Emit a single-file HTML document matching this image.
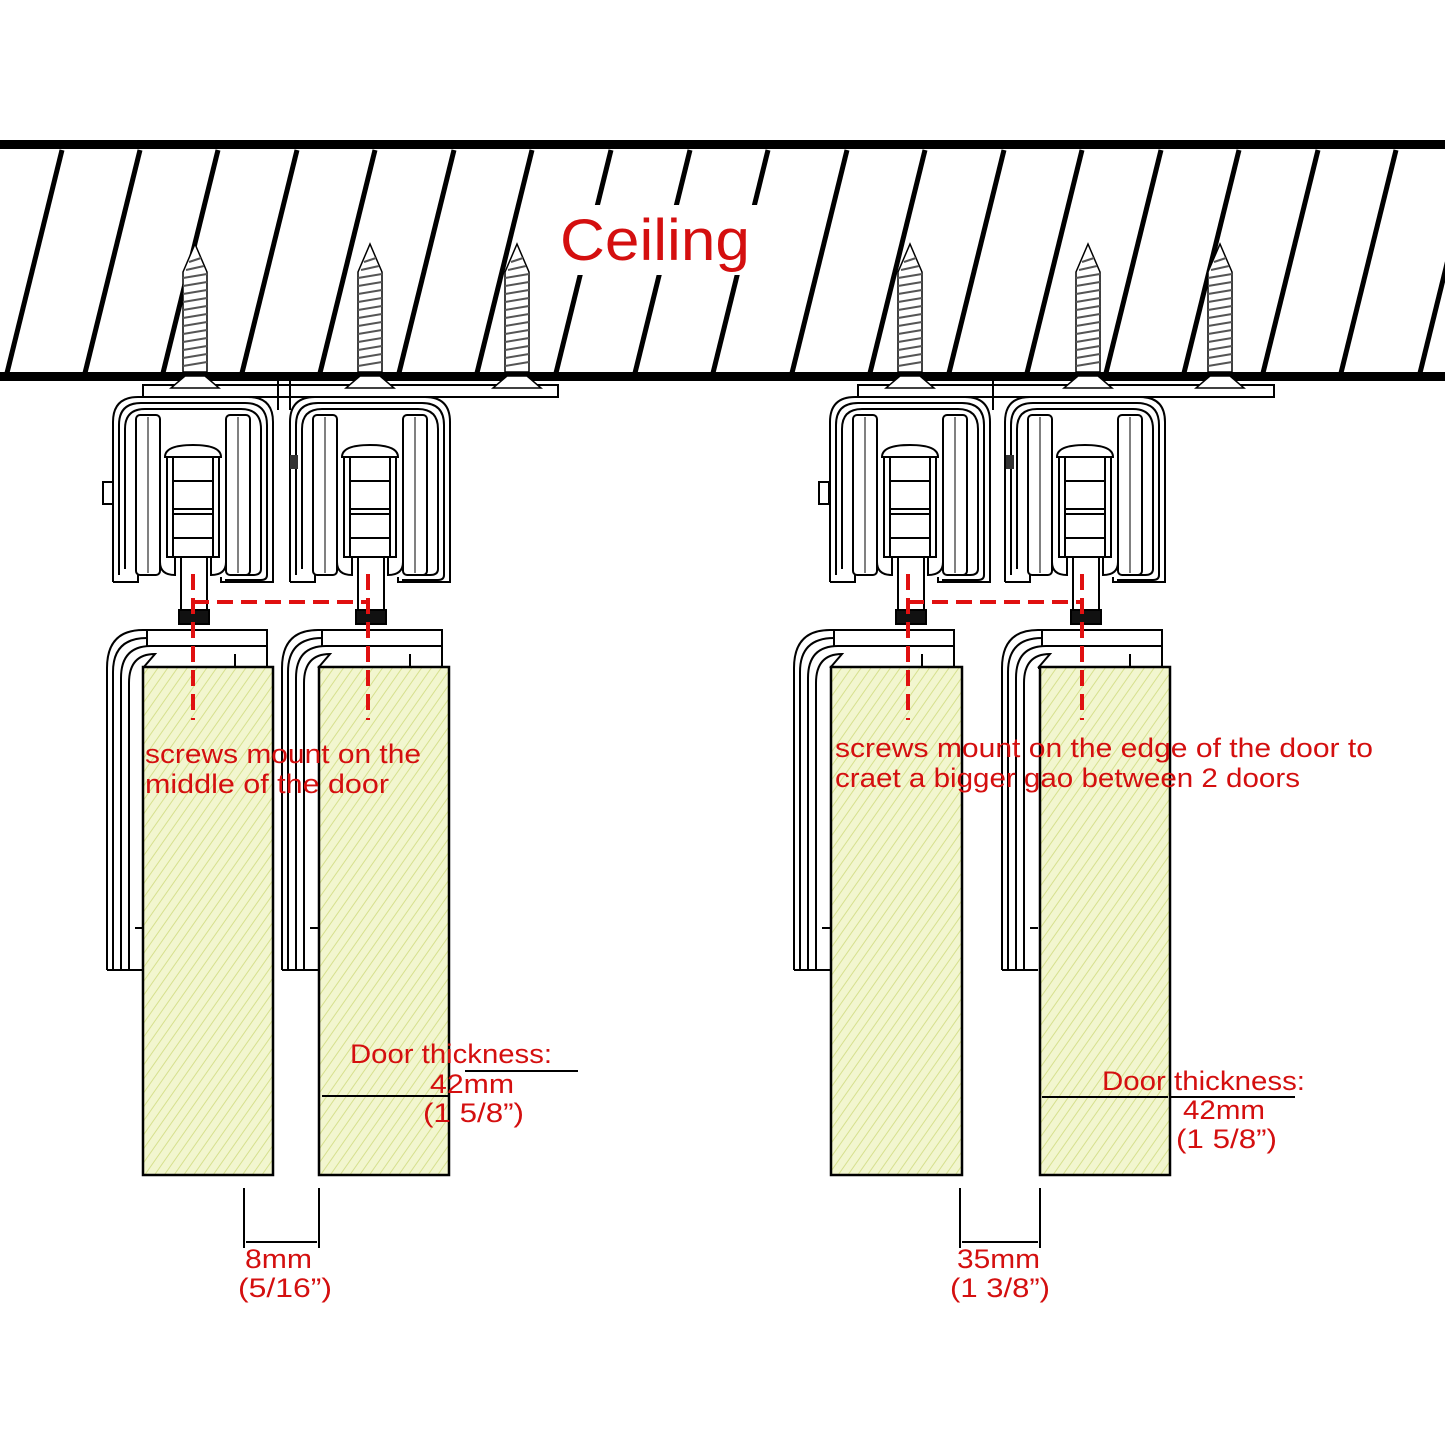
<!DOCTYPE html>
<html><head><meta charset="utf-8"><style>
html,body{margin:0;padding:0;background:#fff;}
svg{display:block;}
text{font-family:"Liberation Sans",sans-serif;fill:#d40f0f;}
</style></head><body>
<svg width="1445" height="1445" viewBox="0 0 1445 1445" xmlns="http://www.w3.org/2000/svg">
<defs>
<pattern id="wood" width="8" height="8" patternUnits="userSpaceOnUse" patternTransform="rotate(35)">
<rect width="8" height="8" fill="#f2f6cf"/>
<line x1="0" y1="0" x2="0" y2="8" stroke="#d6e08e" stroke-width="2"/>
</pattern>
<g id="screw">
<polygon points="-12,0 12,0 12,-100 0,-128 -12,-100" fill="#fff" stroke="#000" stroke-width="1.5"/>
<g stroke="#555" stroke-width="2" fill="none">
<path d="M-12,-6 L12,-10 M-12,-14 L12,-18 M-12,-22 L12,-26 M-12,-30 L12,-34 M-12,-38 L12,-42 M-12,-46 L12,-50 M-12,-54 L12,-58 M-12,-62 L12,-66 M-12,-70 L12,-74 M-12,-78 L12,-82 M-12,-86 L12,-90 M-12,-94 L12,-98 M-9,-102 L9,-106 M-6,-110 L6,-114"/>
</g>
<polygon points="-10,4 10,4 24,16 -24,16" fill="#fff" stroke="#000" stroke-width="1.5"/>
</g>
<g id="hanger" fill="none" stroke="#000" stroke-width="2">
<path d="M0,185 L0,25 Q0,0 25,0 L135,0 Q160,0 160,25 L160,185 L108,185 L108,180"/>
<path d="M0,185 L25,185 L25,178" />
<path d="M6,178 L6,28 Q6,6 28,6 L132,6 Q154,6 154,28 L154,178 Q154,183 148,183 L112,183"/>
<path d="M12,172 L12,32 Q12,12 32,12 L128,12 Q148,12 148,32 L148,172 Q148,178 140,178 L122,178"/>
<rect x="23" y="18" width="24" height="160" rx="4"/>
<rect x="113" y="18" width="24" height="160" rx="4"/>
<line x1="35" y1="20" x2="35" y2="176" stroke-width="1"/>
<line x1="125" y1="20" x2="125" y2="176" stroke-width="1"/>
<path d="M47,165 Q47,178 62,178 L62,160 L98,160 L98,178 Q113,178 113,165"/>
<path d="M52,60 Q52,48 80,48 Q108,48 108,60 Z"/>
<rect x="54" y="60" width="52" height="100"/>
<rect x="60" y="60" width="40" height="100"/>
<line x1="60" y1="84" x2="100" y2="84"/>
<line x1="60" y1="112" x2="100" y2="112"/>
<line x1="60" y1="117" x2="100" y2="117"/>
<line x1="60" y1="141" x2="100" y2="141"/>
<rect x="68" y="160" width="26" height="55"/>
<rect x="66" y="213" width="30" height="14" fill="#111"/>
</g>
<g id="holder" fill="none" stroke="#000" stroke-width="2">
<path d="M0,342 L0,40 Q0,2 36,2 L160,2 L160,40"/>
<path d="M6,342 L6,44 Q6,10 40,10"/>
<path d="M14,342 L14,50 Q14,18 44,18 L160,18"/>
<path d="M22,342 L22,55 Q22,26 48,26 L36,40"/>
<line x1="40" y1="2" x2="40" y2="18"/>
<path d="M36,40 L160,40"/>
<line x1="128" y1="26" x2="128" y2="40"/>
<line x1="0" y1="342" x2="36" y2="342"/>
<line x1="28" y1="300" x2="36" y2="300"/>
</g>
</defs>
<rect width="1445" height="1445" fill="#fff"/>
<g stroke="#000" stroke-width="5">
<line x1="-17" y1="150" x2="-72" y2="373"/>
<line x1="62" y1="150" x2="7" y2="373"/>
<line x1="140" y1="150" x2="85" y2="373"/>
<line x1="218" y1="150" x2="163" y2="373"/>
<line x1="297" y1="150" x2="242" y2="373"/>
<line x1="375" y1="150" x2="320" y2="373"/>
<line x1="454" y1="150" x2="399" y2="373"/>
<line x1="532" y1="150" x2="477" y2="373"/>
<line x1="611" y1="150" x2="556" y2="373"/>
<line x1="690" y1="150" x2="635" y2="373"/>
<line x1="768" y1="150" x2="713" y2="373"/>
<line x1="847" y1="150" x2="792" y2="373"/>
<line x1="925" y1="150" x2="870" y2="373"/>
<line x1="1004" y1="150" x2="949" y2="373"/>
<line x1="1082" y1="150" x2="1027" y2="373"/>
<line x1="1161" y1="150" x2="1106" y2="373"/>
<line x1="1239" y1="150" x2="1184" y2="373"/>
<line x1="1318" y1="150" x2="1263" y2="373"/>
<line x1="1396" y1="150" x2="1341" y2="373"/>
<line x1="1475" y1="150" x2="1420" y2="373"/>
</g>
<rect x="552" y="205" width="205" height="70" fill="#fff"/>
<text x="560" y="260" font-size="58" textLength="190" lengthAdjust="spacingAndGlyphs">Ceiling</text>
<rect x="0" y="140" width="1445" height="9" fill="#000"/>
<rect x="0" y="372" width="1445" height="9" fill="#000"/>
<rect x="143" y="385" width="415" height="12" fill="#fff" stroke="#000" stroke-width="2"/>
<rect x="858" y="385" width="416" height="12" fill="#fff" stroke="#000" stroke-width="2"/>
<line x1="278" y1="381" x2="278" y2="410" stroke="#000" stroke-width="2"/>
<line x1="290" y1="381" x2="290" y2="410" stroke="#000" stroke-width="2"/>
<line x1="993" y1="381" x2="993" y2="410" stroke="#000" stroke-width="2"/>
<use href="#screw" x="195" y="372"/>
<use href="#screw" x="370" y="372"/>
<use href="#screw" x="517" y="372"/>
<use href="#screw" x="910" y="372"/>
<use href="#screw" x="1088" y="372"/>
<use href="#screw" x="1220" y="372"/>
<use href="#hanger" x="113" y="397"/>
<use href="#hanger" x="290" y="397"/>
<use href="#hanger" x="830" y="397"/>
<use href="#hanger" x="1005" y="397"/>
<rect x="103" y="482" width="10" height="22" fill="#fff" stroke="#000" stroke-width="2"/>
<rect x="819" y="482" width="10" height="22" fill="#fff" stroke="#000" stroke-width="2"/>
<rect x="290" y="455" width="8" height="14" fill="#333"/>
<rect x="1006" y="455" width="8" height="14" fill="#333"/>
<use href="#holder" x="107" y="628"/>
<use href="#holder" x="282" y="628"/>
<use href="#holder" x="794" y="628"/>
<use href="#holder" x="1002" y="628"/>
<g stroke="#000" stroke-width="2.5">
<rect x="143" y="667" width="130" height="508" fill="url(#wood)"/>
<rect x="319" y="667" width="130" height="508" fill="url(#wood)"/>
<rect x="831" y="667" width="131" height="508" fill="url(#wood)"/>
<rect x="1040" y="667" width="130" height="508" fill="url(#wood)"/>
</g>
<g stroke="#e01010" stroke-width="4" stroke-dasharray="16,8" fill="none">
<path d="M193,574 L193,720 M368,574 L368,720 M193,602 L368,602"/>
<path d="M908,574 L908,720 M1082,574 L1082,720 M908,602 L1082,602"/>
</g>
<g stroke="#000" stroke-width="2">
<line x1="465" y1="1071" x2="578" y2="1071"/>
<line x1="322" y1="1096" x2="450" y2="1096"/>
<line x1="244" y1="1188" x2="244" y2="1248"/>
<line x1="319" y1="1188" x2="319" y2="1248"/>
<line x1="246" y1="1242" x2="317" y2="1242"/>
<line x1="1170" y1="1097" x2="1295" y2="1097"/>
<line x1="1042" y1="1097" x2="1168" y2="1097"/>
<line x1="960" y1="1188" x2="960" y2="1248"/>
<line x1="1040" y1="1188" x2="1040" y2="1248"/>
<line x1="962" y1="1242" x2="1038" y2="1242"/>
</g>
<g font-size="27" lengthAdjust="spacingAndGlyphs">
<text x="145" y="763" textLength="276" lengthAdjust="spacingAndGlyphs">screws mount on the</text>
<text x="145" y="793" textLength="244" lengthAdjust="spacingAndGlyphs">middle of the door</text>
<text x="835" y="757" textLength="538" lengthAdjust="spacingAndGlyphs">screws mount on the edge of the door to</text>
<text x="835" y="787" textLength="465" lengthAdjust="spacingAndGlyphs">craet a bigger gao between 2 doors</text>
<text x="350" y="1063" textLength="202" lengthAdjust="spacingAndGlyphs">Door thickness:</text>
<text x="430" y="1093" textLength="84" lengthAdjust="spacingAndGlyphs">42mm</text>
<text x="423" y="1122" textLength="101" lengthAdjust="spacingAndGlyphs">(1 5/8”)</text>
<text x="245" y="1268" textLength="67" lengthAdjust="spacingAndGlyphs">8mm</text>
<text x="238" y="1297" textLength="94" lengthAdjust="spacingAndGlyphs">(5/16”)</text>
<text x="1102" y="1090" textLength="203" lengthAdjust="spacingAndGlyphs">Door thickness:</text>
<text x="1183" y="1119" textLength="82" lengthAdjust="spacingAndGlyphs">42mm</text>
<text x="1176" y="1148" textLength="101" lengthAdjust="spacingAndGlyphs">(1 5/8”)</text>
<text x="957" y="1268" textLength="83" lengthAdjust="spacingAndGlyphs">35mm</text>
<text x="950" y="1297" textLength="100" lengthAdjust="spacingAndGlyphs">(1 3/8”)</text>
</g>
</svg>
</body></html>
